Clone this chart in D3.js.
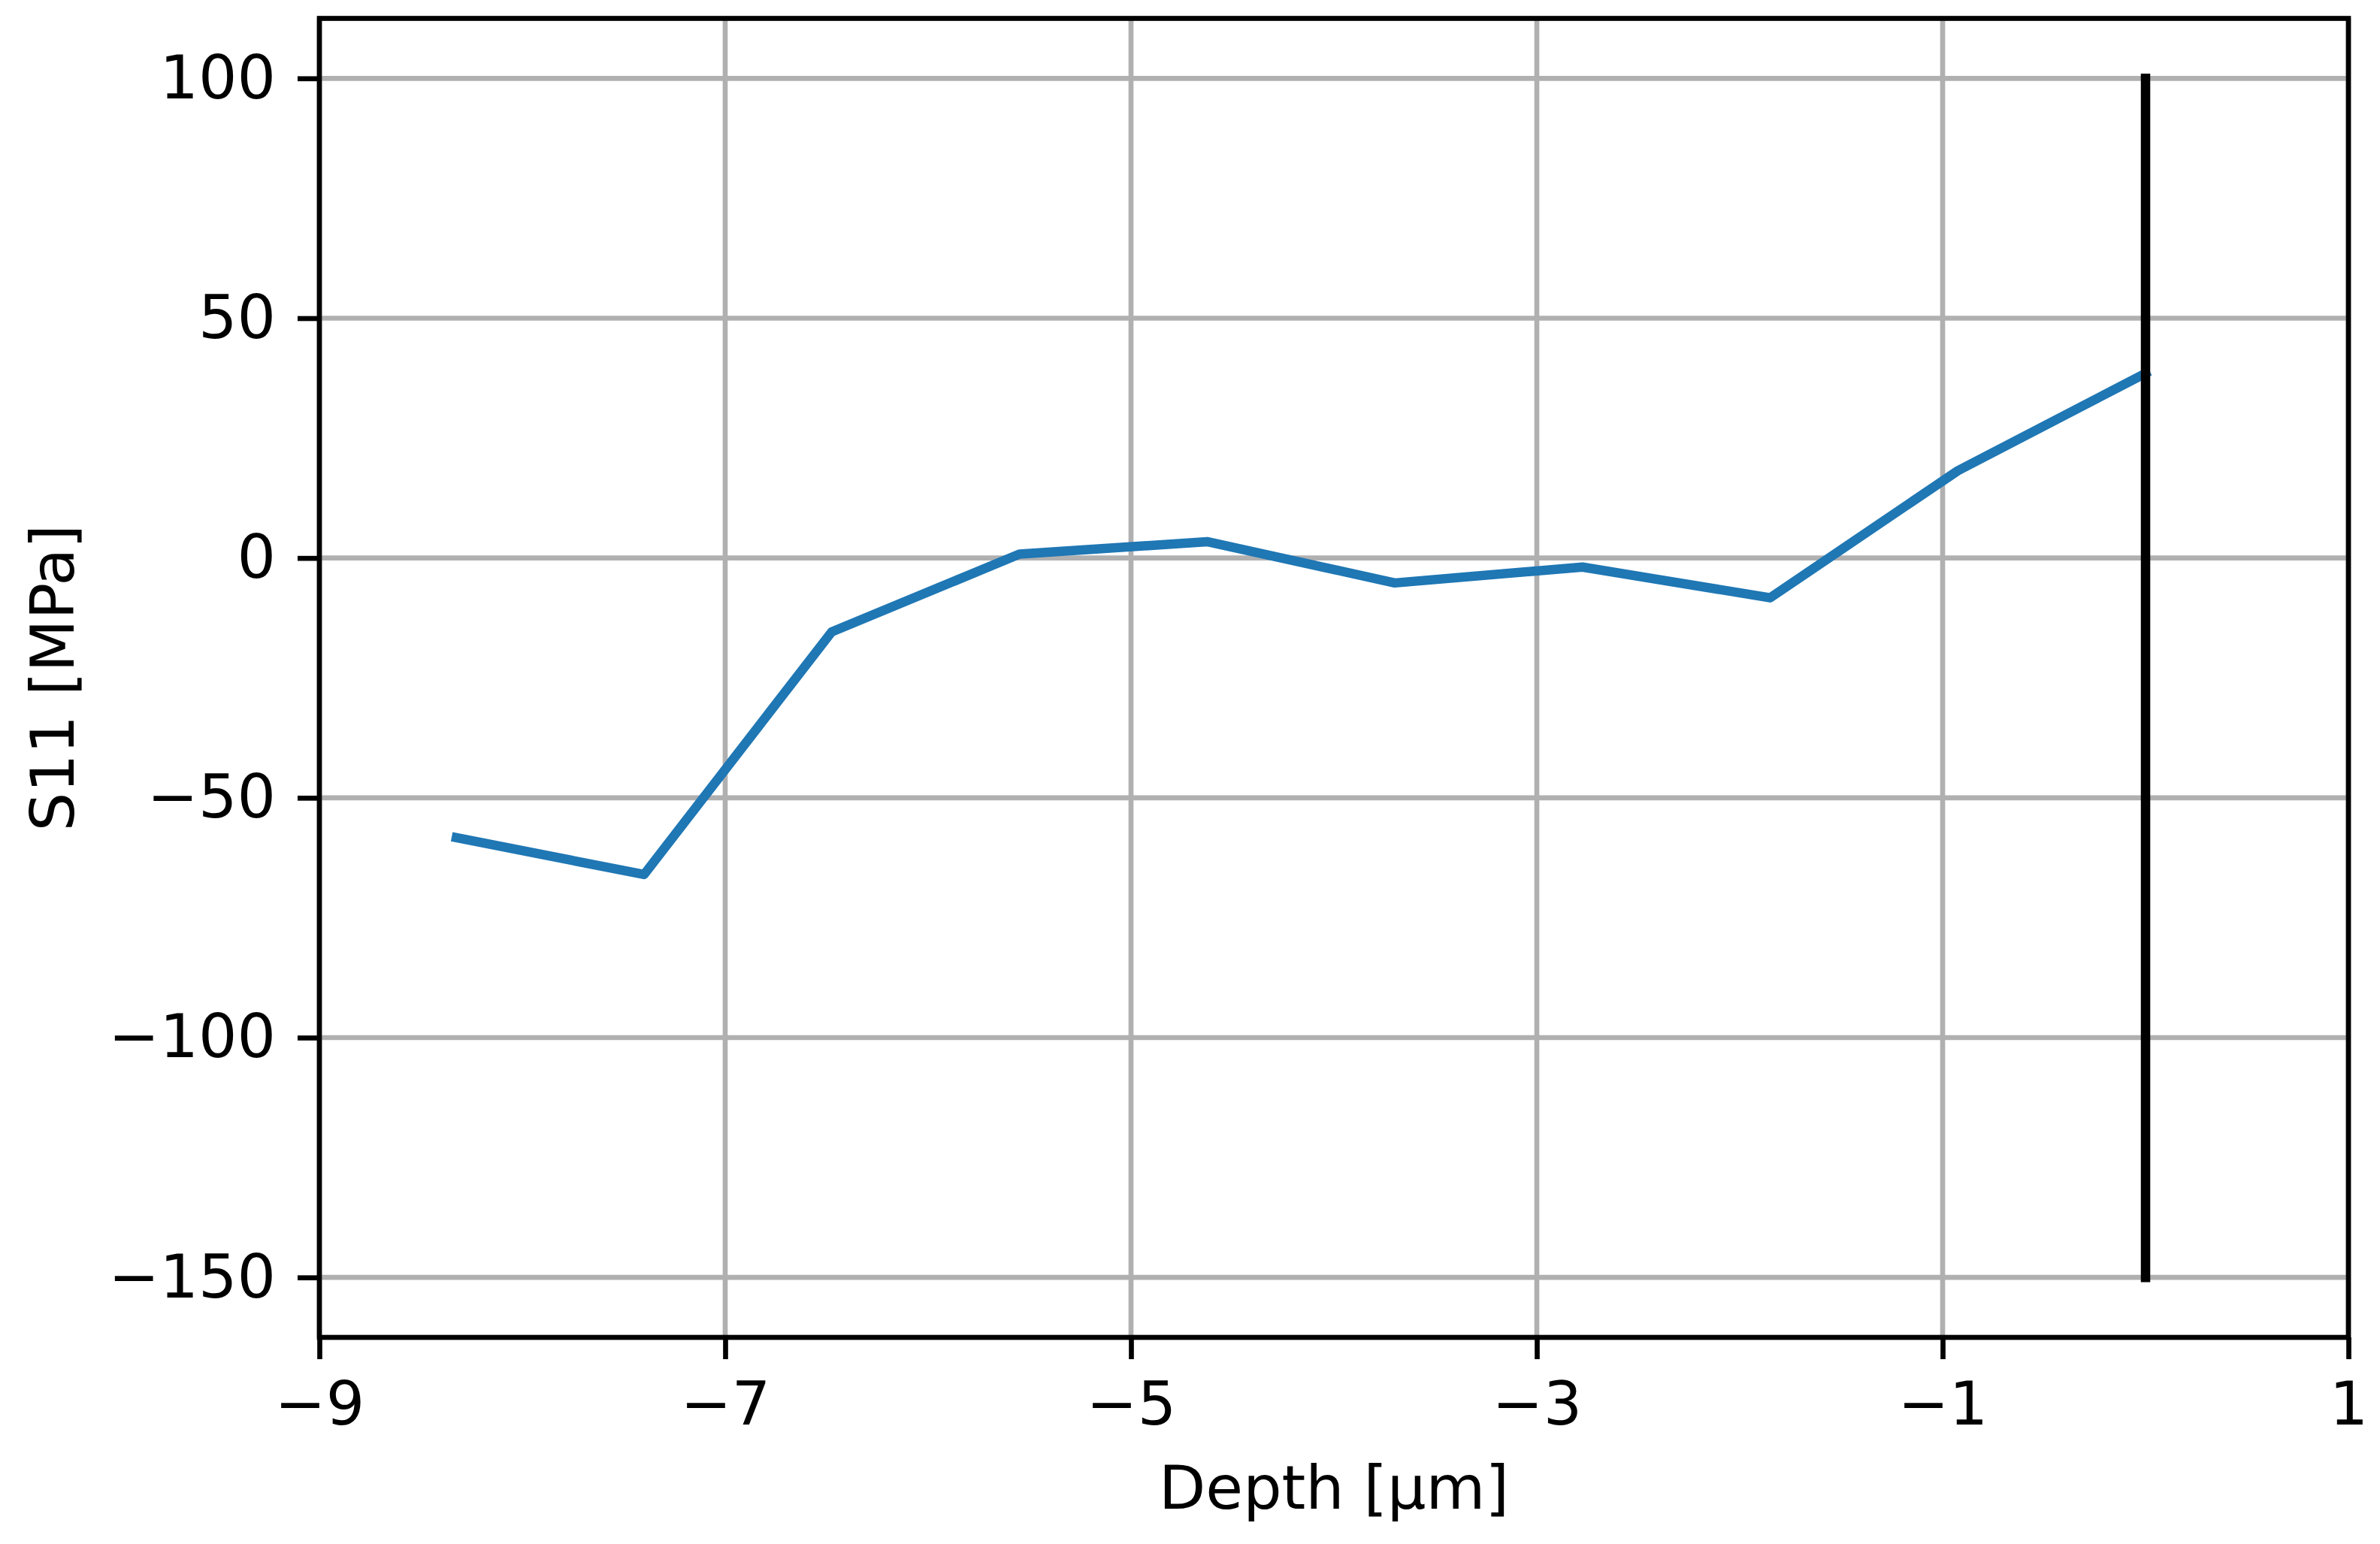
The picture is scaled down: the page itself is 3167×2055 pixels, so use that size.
<!DOCTYPE html>
<html>
<head>
<meta charset="utf-8">
<script src="https://cdn.jsdelivr.net/npm/d3@7"></script>
<style>
  body { margin: 0; background: #fff; }
  text { font-family: "DejaVu Sans", sans-serif; }
</style>
</head>
<body>
<div id="chart"></div>
<script>
// S11 stress along depth
var depth = [-8.325, -7.4, -6.475, -5.55, -4.625, -3.7, -2.775, -1.85, -0.925, 0];
var s11 = [-58.3, -66.0, -15.4, 0.8, 3.4, -5.2, -1.9, -8.3, 18.2, 38.5];

// vertical marker line (surface)
var markerX = [0, 0];
var markerY = [-150, 100];

var xTicks = [-9, -7, -5, -3, -1, 1];
var yTicks = [-150, -100, -50, 0, 50, 100];
var xDomain = [-9, 1];
var yDomain = [-162.5, 112.5];

function main(){

	var width = 3167,
		height = 2055;

	// plot box in pixels
	var left = 425, right = 3125, top = 24.5, bottom = 1780;

	var fontSize = 81,
		thin = 6.67,
		thick = 12.5,
		tickLen = 29;

	var svg = d3.select("#chart").append("svg")
		.attr("width", width)
		.attr("height", height);

	var x = d3.scaleLinear().domain(xDomain).range([left, right]);
	var y = d3.scaleLinear().domain(yDomain).range([bottom, top]);

	// grid
	svg.append("g").selectAll("line")
		.data(xTicks).enter()
		.append("line")
		.attr("x1", d => x(d)).attr("x2", d => x(d))
		.attr("y1", top).attr("y2", bottom)
		.attr("stroke", "#b0b0b0")
		.attr("stroke-width", thin);

	svg.append("g").selectAll("line")
		.data(yTicks).enter()
		.append("line")
		.attr("x1", left).attr("x2", right)
		.attr("y1", d => y(d)).attr("y2", d => y(d))
		.attr("stroke", "#b0b0b0")
		.attr("stroke-width", thin);

	// data line
	var line = d3.line()
		.x(d => x(d[0]))
		.y(d => y(d[1]));

	svg.append("path")
		.datum(d3.zip(depth, s11))
		.attr("d", line)
		.attr("fill", "none")
		.attr("stroke", "#1f77b4")
		.attr("stroke-width", thick)
		.attr("stroke-linejoin", "round")
		.attr("stroke-linecap", "square");

	svg.append("path")
		.datum(d3.zip(markerX, markerY))
		.attr("d", line)
		.attr("fill", "none")
		.attr("stroke", "#000")
		.attr("stroke-width", thick)
		.attr("stroke-linecap", "square");

	// axes
	var fmt = d3.format("d");

	var xAxis = svg.append("g")
		.attr("transform", "translate(0," + bottom + ")")
		.call(d3.axisBottom(x).tickValues(xTicks).tickFormat(fmt)
			.tickSize(tickLen).tickPadding(tickLen).tickSizeOuter(0));

	var yAxis = svg.append("g")
		.attr("transform", "translate(" + left + ",0)")
		.call(d3.axisLeft(y).tickValues(yTicks).tickFormat(fmt)
			.tickSize(tickLen).tickPadding(tickLen).tickSizeOuter(0));

	[xAxis, yAxis].forEach(function(ax){
		ax.select(".domain").remove();
		ax.selectAll(".tick line")
			.attr("stroke", "#000")
			.attr("stroke-width", thin);
		ax.selectAll(".tick text")
			.attr("fill", "#000")
			.style("font-size", fontSize + "px")
			.style("font-family", "'DejaVu Sans', sans-serif");
	});

	// frame
	svg.append("rect")
		.attr("x", left).attr("y", top)
		.attr("width", right - left).attr("height", bottom - top)
		.attr("fill", "none")
		.attr("stroke", "#000")
		.attr("stroke-width", thin)
		.attr("stroke-linejoin", "miter");

	// labels
	svg.append("text")
		.attr("x", (left + right) / 2)
		.attr("y", 2008)
		.attr("text-anchor", "middle")
		.style("font-size", fontSize + "px")
		.text("Depth [μm]");

	svg.append("text")
		.attr("transform", "translate(98," + ((top + bottom) / 2) + ") rotate(-90)")
		.attr("text-anchor", "middle")
		.style("font-size", fontSize + "px")
		.text("S11 [MPa]");
}

main();
</script>
</body>
</html>
